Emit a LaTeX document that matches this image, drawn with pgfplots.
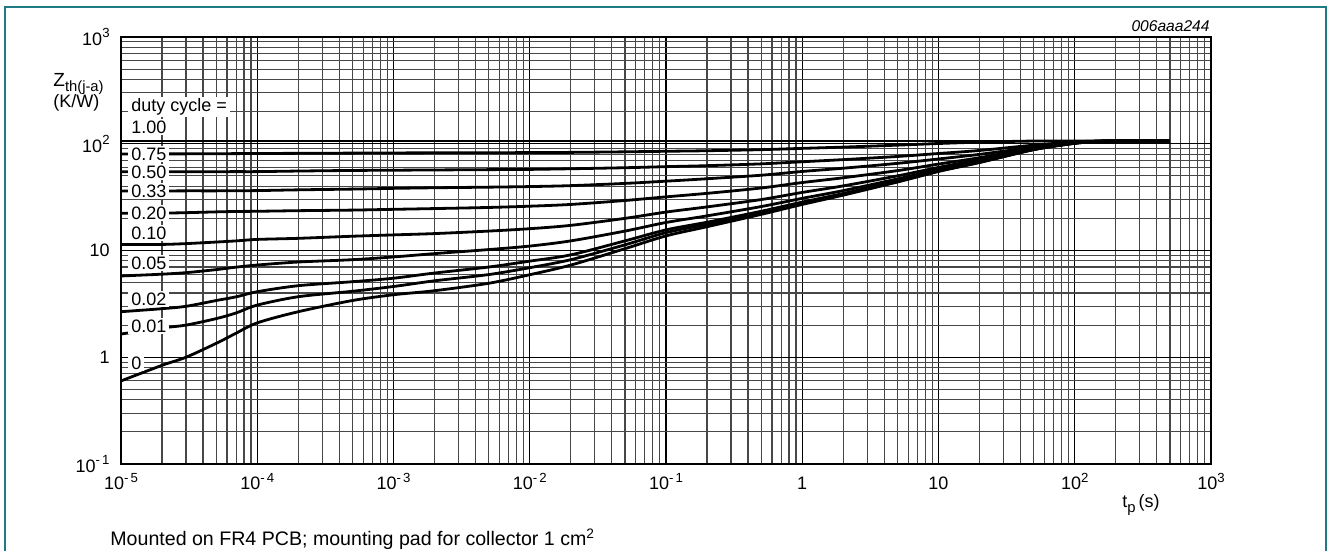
\documentclass[border=0pt]{standalone}
\usepackage{fontspec}
\setmainfont{Liberation Sans}
\usepackage{pgfplots}
\usepackage{pgfplotstable}
\pgfplotsset{compat=1.18}
\definecolor{framecol}{RGB}{31,122,131}
\newcommand\lab{\fontsize{9pt}{10pt}\selectfont}
\newcommand\sUp[1]{\raisebox{0.42em}{\fontsize{6.6pt}{7pt}\selectfont #1}}
\newcommand\sDn[1]{\raisebox{-0.25em}{\fontsize{7.4pt}{8pt}\selectfont #1}}

% Zth(j-a) in K/W against pulse time tp in s, one column per duty cycle
\pgfplotstableread{
t      z100  z075  z050  z033  z020  z010  z005  z002  z001  z0
1e-5   106   80.2  54.7  36.1  22.3  11.4  5.77  2.67  1.65  0.60
2e-5   106   80.3  54.7  36.1  22.4  11.4  6.00  2.85  1.88  0.84
3e-5   106   80.4  54.7  36.2  22.6  11.6  6.20  3.00  2.00  1.00
5e-5   106   80.6  54.7  36.2  23.0  12.0  6.62  3.40  2.30  1.35
7e-5   106   80.8  54.8  36.3  23.2  12.3  6.98  3.68  2.60  1.68
1e-4   106   81.0  54.8  36.4  23.3  12.7  7.31  4.11  3.08  2.10
2e-4   106   81.3  55.5  37.0  23.6  13.0  7.80  4.68  3.69  2.67
5e-4   106   81.7  56.2  37.6  23.9  13.6  8.20  5.10  4.15  3.40
1e-3   106   82.0  56.5  38.2  24.3  14.0  8.70  5.50  4.60  3.85
2e-3   106   82.2  56.8  38.7  24.7  14.4  9.35  6.15  5.20  4.20
5e-3   106   82.4  57.2  39.2  25.3  15.2  10.2  7.00  5.95  4.93
1e-2   106   82.6  57.5  39.7  26.0  16.0  11.0  7.95  6.90  5.93
2e-2   106   83.0  58.3  40.5  27.0  17.2  12.3  9.10  8.20  7.30
5e-2   106   84.0  59.6  42.5  29.4  20.0  15.2  12.3  11.3  10.4
0.1    106   85.0  61.0  44.6  31.8  22.9  18.3  15.6  14.7  13.7
0.2    106   86.0  62.3  47.0  34.3  25.6  21.1  18.4  17.6  16.7
0.5    106   88.0  64.8  50.7  38.5  30.0  25.8  23.3  22.6  21.8
1      106   90.5  67.8  55.0  43.3  35.0  30.8  28.4  27.8  27.0
2      106   93.0  71.0  59.0  48.0  40.3  36.4  34.2  33.6  33.0
5      106   97.0  76.0  65.5  56.0  50.0  46.8  44.8  44.3  43.8
10     106   100.5 81.0  72.0  64.5  60.0  57.4  55.8  55.4  55.0
20     106   103.5 86.5  79.5  74.0  71.0  68.6  67.3  67.0  66.7
50     106   106   97.0  93.0  91.0  90.0  89.0  88.4  88.2  88.0
100    106   106   104   103   102.5 102   101.5 101   101   101
150    106   106   106   105.5 105.5 105.5 105.5 105   105   105
200    106   106   106   106   106   106   106   106   106   106
500    106   106   106   106   106   106   106   106   106   106
}\zth

\begin{document}
\begin{tikzpicture}
\path[use as bounding box] (0,0) rectangle (664pt,275.5pt);
\draw[framecol, line width=0.75pt] (2.5pt,0) -- (2.5pt,272pt) -- (663pt,272pt) -- (663pt,0);
\begin{axis}[
  at={(60.5pt,43.5pt)}, anchor=south west,
  scale only axis, width=545pt, height=213.5pt,
  xmode=log, ymode=log,
  xmin=1e-5, xmax=1e3, ymin=0.1, ymax=1e3,
  xtick={1e-5,1e-4,1e-3,1e-2,1e-1,1,10,100,1000},
  xticklabels={10\sUp{-\,5},10\sUp{-\,4},10\sUp{-\,3},10\sUp{-\,2},10\sUp{-\,1},1,10,10\sUp{2},10\sUp{3}},
  ytick={0.1,1,10,100,1000},
  yticklabels={10\sUp{-\,1},1,10,10\sUp{2},10\sUp{3}},
  minor xtick={2e-5,3e-5,4e-5,5e-5,6e-5,7e-5,8e-5,9e-5,
    2e-4,3e-4,4e-4,5e-4,6e-4,7e-4,8e-4,9e-4,
    2e-3,3e-3,4e-3,5e-3,6e-3,7e-3,8e-3,9e-3,
    0.02,0.03,0.04,0.05,0.06,0.07,0.08,0.09,
    0.2,0.3,0.4,0.5,0.6,0.7,0.8,0.9,
    2,3,4,5,6,7,8,9,20,30,40,50,60,70,80,90,
    200,300,400,500,600,700,800,900},
  minor ytick={0.2,0.3,0.4,0.5,0.6,0.7,0.8,0.9,
    2,3,4,5,6,7,8,9,20,30,40,50,60,70,80,90,
    200,300,400,500,600,700,800,900},
  grid=both,
  major grid style={black, line width=0.55pt},
  minor grid style={black!72, line width=0.55pt},
  major tick length=0pt, minor tick length=0pt,
  axis line style={line width=0.7pt},
  tick label style={font=\lab},
  xticklabel style={anchor=base, inner sep=0pt, yshift=-13pt},
  yticklabel style={anchor=east, inner sep=0pt, xshift=-5.5pt},
  zc/.style={black, line width=1.4pt, smooth, no marks},
]
\addplot[zc] table[x=t, y=z100] {\zth};
\addplot[zc] table[x=t, y=z075] {\zth};
\addplot[zc] table[x=t, y=z050] {\zth};
\addplot[zc] table[x=t, y=z033] {\zth};
\addplot[zc] table[x=t, y=z020] {\zth};
\addplot[zc] table[x=t, y=z010] {\zth};
\addplot[zc] table[x=t, y=z005] {\zth};
\addplot[zc] table[x=t, y=z002] {\zth};
\addplot[zc] table[x=t, y=z001] {\zth};
\addplot[zc] table[x=t, y=z0] {\zth};
\end{axis}

% duty cycle labels
\begin{scope}[every node/.style={anchor=west, fill=white, inner xsep=1.5pt, inner ysep=0.8pt, font=\lab}]
\node at (64pt,222pt) {duty cycle =};
\node at (64pt,212pt) {1.00};
\node at (64pt,198.5pt) {0.75};
\node at (64pt,189.5pt) {0.50};
\node at (64pt,180pt) {0.33};
\node at (64pt,169pt) {0.20};
\node at (64pt,159pt) {0.10};
\node at (64pt,144pt) {0.05};
\node at (64pt,126pt) {0.02};
\node at (64pt,112.5pt) {0.01};
\node at (64pt,94pt) {0};
\end{scope}

\node[anchor=base west, inner sep=0pt, font=\fontsize{9.5pt}{10pt}\selectfont] at (26.5pt,232pt) {Z\sDn{th(j-a)}};
\node[anchor=base west, inner sep=0pt, font=\lab] at (26.5pt,221.5pt) {(K/W)};
\node[anchor=base west, inner sep=0pt, font=\lab] at (561pt,21.5pt) {t\sDn{p}\,(s)};
\node[anchor=base east, inner sep=0pt, font=\fontsize{7.8pt}{9pt}\selectfont\itshape] at (605pt,259.5pt) {006aaa244};
\node[anchor=base west, inner sep=0pt, font=\fontsize{9.8pt}{12pt}\selectfont] at (55pt,2.5pt) {Mounted on FR4 PCB; mounting pad for collector 1 cm\textsuperscript{2}};
\end{tikzpicture}
\end{document}
